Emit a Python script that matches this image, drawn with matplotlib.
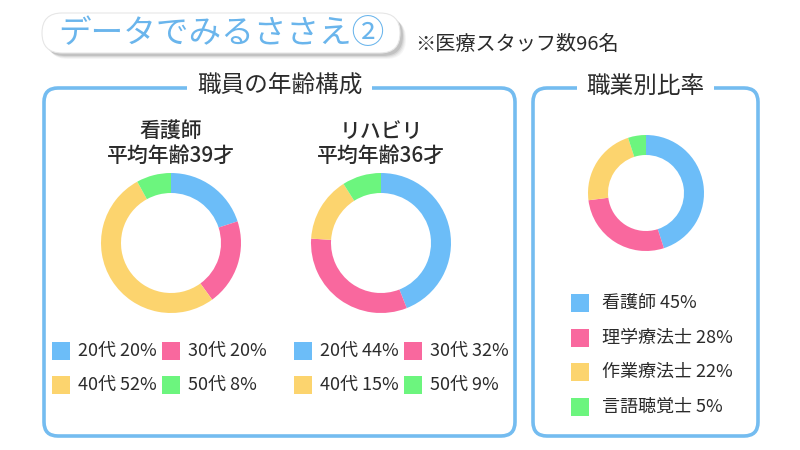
import matplotlib
matplotlib.use("Agg")
import matplotlib.pyplot as plt
from matplotlib.patches import FancyBboxPatch, Rectangle

plt.rcParams['font.family'] = ['Noto Sans CJK JP', 'DejaVu Sans']

# data
ages = ['20代', '30代', '40代', '50代']
nurse_ages = [20, 20, 52, 8]
rehab_ages = [44, 32, 15, 9]
jobs = ['看護師', '理学療法士', '作業療法士', '言語聴覚士']
job_share = [45, 28, 22, 5]

colors = ['#6cbdf8', '#f9689e', '#fcd46e', '#6cf57e']
border = '#74bcf0'
ink = '#2b2b2b'

W, H = 800, 450
fig = plt.figure(figsize=(8, 4.5), dpi=100)
bg = fig.add_axes([0, 0, 1, 1])
bg.set_xlim(0, W)
bg.set_ylim(H, 0)
bg.axis('off')

# title pill with a soft shadow
for i, a in enumerate([0.06, 0.08, 0.12, 0.18]):
    off = 4 - i
    bg.add_patch(FancyBboxPatch((44 + off, 15 + off), 358, 40,
                                boxstyle="round,pad=0,rounding_size=20",
                                fc='#606060', ec='none', alpha=a, zorder=1))
bg.add_patch(FancyBboxPatch((42, 13), 358, 40,
                            boxstyle="round,pad=0,rounding_size=20",
                            fc='white', ec='#e6e6e6', lw=0.8, zorder=2))
bg.text(221, 34, 'データでみるささえ②', color='#6ab5ec', fontsize=23.5,
        ha='center', va='center', zorder=3)
bg.text(415, 44, '※医療スタッフ数96名', color=ink, fontsize=14.5,
        ha='left', va='center')


def panel(x0, x1, y0, y1, title):
    bg.add_patch(FancyBboxPatch((x0, y0), x1 - x0, y1 - y0,
                                boxstyle="round,pad=0,rounding_size=14",
                                fc='none', ec=border, lw=2.6, zorder=2))
    bg.text((x0 + x1) / 2, y0 - 2, title, color=ink, fontsize=17,
            ha='center', va='center', zorder=4,
            bbox=dict(fc='white', ec='none', pad=7))


panel(44, 515, 88, 436, '職員の年齢構成')
panel(533, 758, 88, 436, '職業別比率')


def donut(cx, cy, r, width, vals):
    ax = fig.add_axes([(cx - r) / W, 1 - (cy + r) / H, 2 * r / W, 2 * r / H])
    ax.pie(vals, colors=colors, startangle=90, counterclock=False, radius=1,
           wedgeprops=dict(width=width / r, linewidth=0))
    ax.set_xlim(-1, 1)
    ax.set_ylim(-1, 1)
    ax.axis('off')


# age composition: nurses and rehab
for cx, lx, name, avg, vals in [(171, 52, '看護師', '平均年齢39才', nurse_ages),
                                (381, 294, 'リハビリ', '平均年齢36才', rehab_ages)]:
    bg.text(cx, 132, name, color=ink, fontsize=15, ha='center', va='center',
            fontweight='medium')
    bg.text(cx, 156, avg, color=ink, fontsize=15, ha='center', va='center',
            fontweight='medium')
    donut(cx, 243, 70, 20, vals)
    for i, (lab, v) in enumerate(zip(ages, vals)):
        col, row = i % 2, i // 2
        x = lx + col * 110
        y = 351 + row * 34
        bg.add_patch(Rectangle((x, y - 9), 18, 18, fc=colors[i], ec='none'))
        bg.text(x + 26, y, f'{lab} {v}%', color=ink, fontsize=13,
                ha='left', va='center')

# job share
donut(646, 193, 58, 20, job_share)
for i, (lab, v) in enumerate(zip(jobs, job_share)):
    y = 303 + i * 34.5
    bg.add_patch(Rectangle((571, y - 9), 18, 18, fc=colors[i], ec='none'))
    bg.text(602, y, f'{lab} {v}%', color=ink, fontsize=13,
            ha='left', va='center')

fig.savefig('out.png', dpi=100)
